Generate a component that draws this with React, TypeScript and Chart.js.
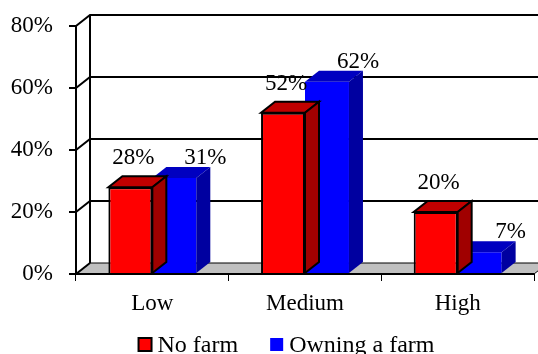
import React, { useEffect, useRef } from 'react';
import { Chart, registerables } from 'chart.js';

Chart.register(...registerables);

const categories = ['Low', 'Medium', 'High'];
const seriesNames = ['No farm', 'Owning a farm'];
const noFarm = [28, 52, 20];
const owningFarm = [31, 62, 7];
const yTickValues = [0, 20, 40, 60, 80];

const FONT = '"Liberation Serif", "Times New Roman", serif';
const DX = 14;
const DY = -11;

const palette = [
  { front: '#ff0000', top: '#c00000', side: '#a00000', border: '#000000', labelDx: 3, labelDy: 29 },
  { front: '#0000ff', top: '#0000c0', side: '#0000a0', border: '', labelDx: 31, labelDy: 20 },
];

const wallsPlugin = {
  id: 'walls3d',
  beforeDatasetsDraw(chart: any) {
    const { ctx, chartArea } = chart;
    const y = chart.scales.y;
    const L = chartArea.left;
    const R = chartArea.right;
    const B = y.getPixelForValue(0);
    const T = y.getPixelForValue(80);
    ctx.save();
    ctx.beginPath();
    ctx.moveTo(L, B);
    ctx.lineTo(L + DX, B + DY);
    ctx.lineTo(R + DX, B + DY);
    ctx.lineTo(R, B);
    ctx.closePath();
    ctx.fillStyle = '#c0c0c0';
    ctx.fill();
    ctx.strokeStyle = '#000';
    ctx.lineWidth = 1;
    ctx.stroke();
    ctx.lineWidth = 2;
    for (const v of yTickValues) {
      const py = y.getPixelForValue(v);
      ctx.beginPath();
      ctx.moveTo(L, py);
      ctx.lineTo(L + DX, py + DY);
      if (v > 0) ctx.lineTo(R + DX + 10, py + DY);
      ctx.stroke();
    }
    ctx.beginPath();
    ctx.moveTo(L + DX, T + DY);
    ctx.lineTo(L + DX, B + DY);
    ctx.stroke();
    ctx.beginPath();
    ctx.moveTo(L, T);
    ctx.lineTo(L, B);
    ctx.stroke();
    ctx.beginPath();
    ctx.moveTo(L, B);
    ctx.lineTo(R, B);
    ctx.stroke();
    ctx.restore();
  },
  afterDatasetDraw(chart: any, args: any) {
    const { ctx } = chart;
    const meta = chart.getDatasetMeta(args.index);
    const pal = palette[args.index];
    ctx.save();
    for (const el of meta.data) {
      const p = el.getProps(['x', 'y', 'base', 'width'], true);
      const left = p.x - p.width / 2;
      const right = p.x + p.width / 2;
      ctx.beginPath();
      ctx.moveTo(left, p.y);
      ctx.lineTo(right, p.y);
      ctx.lineTo(right + DX, p.y + DY);
      ctx.lineTo(left + DX, p.y + DY);
      ctx.closePath();
      ctx.fillStyle = pal.top;
      ctx.fill();
      if (pal.border) {
        ctx.strokeStyle = pal.border;
        ctx.lineWidth = 2;
        ctx.stroke();
      }
      ctx.beginPath();
      ctx.moveTo(right, p.y);
      ctx.lineTo(right + DX, p.y + DY);
      ctx.lineTo(right + DX, p.base + DY);
      ctx.lineTo(right, p.base);
      ctx.closePath();
      ctx.fillStyle = pal.side;
      ctx.fill();
      if (pal.border) {
        ctx.strokeStyle = pal.border;
        ctx.lineWidth = 2;
        ctx.stroke();
      }
    }
    ctx.restore();
  },
  afterDatasetsDraw(chart: any) {
    const { ctx } = chart;
    ctx.save();
    ctx.font = `23px ${FONT}`;
    ctx.fillStyle = '#000';
    ctx.textAlign = 'center';
    ctx.textBaseline = 'middle';
    chart.data.datasets.forEach((ds: any, i: number) => {
      const meta = chart.getDatasetMeta(i);
      const pal = palette[i];
      meta.data.forEach((el: any, j: number) => {
        const p = el.getProps(['x', 'y'], true);
        ctx.fillText(`${ds.data[j]}%`, p.x + pal.labelDx, p.y - pal.labelDy);
      });
    });
    ctx.restore();
  },
  afterDraw(chart: any) {
    const { ctx } = chart;
    ctx.save();
    ctx.font = `24px ${FONT}`;
    ctx.textBaseline = 'alphabetic';
    ctx.textAlign = 'left';
    const box = 13;
    const gap = 5;
    const itemGap = 33;
    const items = chart.data.datasets.map((ds: any, i: number) => ({
      label: ds.label,
      pal: palette[i],
      w: box + gap + ctx.measureText(ds.label).width,
    }));
    const total = items.reduce((s: number, it: any) => s + it.w, 0) + itemGap * (items.length - 1);
    let x = chart.width / 2 + 17 - total / 2;
    const baseline = chart.height - 2;
    const boxTop = baseline - 14;
    for (const it of items) {
      ctx.fillStyle = it.pal.front;
      ctx.fillRect(x, boxTop, box, box);
      if (it.pal.border) {
        ctx.strokeStyle = it.pal.border;
        ctx.lineWidth = 2;
        ctx.strokeRect(x, boxTop, box, box);
      }
      ctx.fillStyle = '#000';
      ctx.fillText(it.label, x + box + gap + 1, baseline);
      x += it.w + itemGap;
    }
    ctx.restore();
  },
};

export default function App() {
  const ref = useRef<HTMLCanvasElement>(null);
  useEffect(() => {
    document.body.style.margin = '0';
    const canvas = ref.current;
    if (!canvas) return;
    const chart = new Chart(canvas, {
      type: 'bar',
      data: {
        labels: categories,
        datasets: [
          {
            label: seriesNames[0],
            data: noFarm,
            backgroundColor: palette[0].front,
            borderColor: '#000',
            borderWidth: 2,
            categoryPercentage: 0.576,
            barPercentage: 1,
          },
          {
            label: seriesNames[1],
            data: owningFarm,
            backgroundColor: palette[1].front,
            borderWidth: 0,
            categoryPercentage: 0.576,
            barPercentage: 1,
          },
        ],
      },
      options: {
        animation: false,
        responsive: true,
        maintainAspectRatio: false,
        layout: { padding: { top: 26, left: 0, right: 4, bottom: 26.4 } },
        plugins: {
          legend: { display: false },
          tooltip: { enabled: false },
        },
        scales: {
          x: {
            border: { display: false },
            grid: {
              display: true,
              drawOnChartArea: false,
              drawTicks: true,
              tickLength: 7,
              color: '#000',
              lineWidth: 1,
              offset: true,
            },
            ticks: {
              color: '#000',
              font: { family: FONT, size: 23 },
              padding: 9.5,
            },
          },
          y: {
            min: 0,
            max: 80,
            border: { display: false },
            afterFit: (scale: any) => {
              scale.width = 76;
              scale.paddingTop = 0;
              scale.paddingBottom = 0;
            },
            grid: {
              display: true,
              drawOnChartArea: false,
              drawTicks: true,
              tickLength: 7,
              color: '#000',
              lineWidth: 2,
            },
            ticks: {
              stepSize: 20,
              color: '#000',
              font: { family: FONT, size: 23 },
              padding: 16,
              callback: (v: any) => `${v}%`,
            },
          },
        },
      },
      plugins: [wallsPlugin],
    });
    return () => chart.destroy();
  }, []);
  return (
    <div style={{ width: 538, height: 354, position: 'relative' }}>
      <canvas ref={ref} />
    </div>
  );
}
